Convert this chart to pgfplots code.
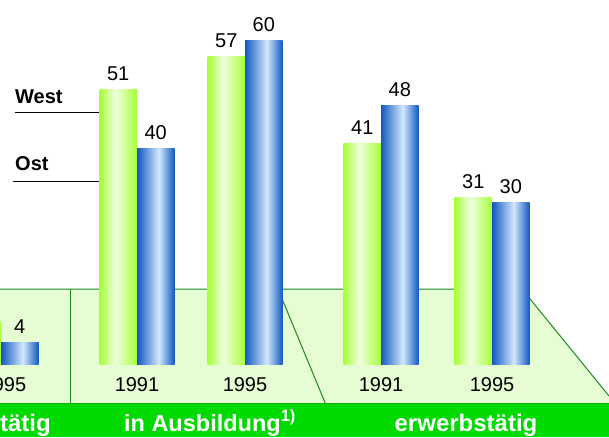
\documentclass[border=0pt]{standalone}
\usepackage{fontspec}
\setmainfont{Liberation Sans}
\usepackage{pgfplots}
\pgfplotsset{compat=1.18}
\definecolor{floorc}{HTML}{E6FDD4}
\definecolor{bandc}{HTML}{00DA00}
\definecolor{dline}{HTML}{1E8A1E}
\definecolor{gEdge}{HTML}{A6FF38}
\definecolor{gMid}{HTML}{F0FFE0}
\definecolor{bEdge}{HTML}{1258C0}
\definecolor{bMid}{HTML}{D2E8FF}
\pgfdeclarehorizontalshading{greenbar}{100bp}{color(0bp)=(gEdge); color(25bp)=(gEdge); color(46bp)=(gMid); color(75bp)=(gEdge); color(100bp)=(gEdge)}
\pgfdeclarehorizontalshading{bluebar}{100bp}{color(0bp)=(bEdge); color(25bp)=(bEdge); color(54bp)=(bMid); color(75bp)=(bEdge); color(100bp)=(bEdge)}
\newcommand\gbar[2]{\addplot[draw=none, bar shift=-18.75, shade, shading=greenbar] coordinates {(#1,#2)};}
\newcommand\bbar[2]{\addplot[draw=none, bar shift=18.75, shade, shading=bluebar] coordinates {(#1,#2)};}
\begin{document}
\begin{tikzpicture}[x=1pt,y=1pt]
\useasboundingbox (0,0) rectangle (609,437);
\clip (0,0) rectangle (609,437);
\fill[white] (0,0) rectangle (609,437);
% floor
\fill[floorc] (-5,148) -- (522,148) -- (609,41) -- (609,33) -- (-5,33) -- cycle;
\draw[dline, line width=1pt] (-5,148) -- (522,148) -- (609,41);
\draw[dline, line width=1pt] (70,148) -- (70,29);
\draw[dline, line width=1pt] (278,148) -- (326,32);
% band
\fill[bandc] (-5,0) rectangle (614,33.5);
\draw[dline!60!bandc, line width=1pt] (-5,33.5) -- (614,33.5);
% legend-like labels
\node[anchor=base west, inner sep=0, font=\fontsize{20}{24}\selectfont\bfseries] at (15,333) {West};
\draw[black, line width=0.9pt] (15,324.3) -- (100,324.3);
\node[anchor=base west, inner sep=0, font=\fontsize{20}{24}\selectfont\bfseries] at (15,267) {Ost};
\draw[black, line width=0.9pt] (13,255.7) -- (148,255.7);
% year labels
\foreach \xx/\yy in {4/1995,137/1991,245/1995,381/1991,492/1995}
  \node[anchor=base, inner sep=0, font=\fontsize{20}{24}\selectfont] at (\xx,45.5) {\yy};
% band labels
\node[anchor=base east, inner sep=0, text=white, font=\fontsize{24}{28}\selectfont\bfseries] at (51,6) {nicht erwerbstätig};
\node[anchor=base, inner sep=0, text=white, font=\fontsize{23.5}{28}\selectfont\bfseries] at (210,6) {in Ausbildung\textsuperscript{1)}};
\node[anchor=base, inner sep=0, text=white, font=\fontsize{24}{28}\selectfont\bfseries] at (466,6) {erwerbstätig};
\begin{axis}[
  at={(0pt,72.5pt)}, anchor=south west,
  x=1pt, y=5.4pt,
  xmin=0, xmax=609, ymin=0, ymax=67,
  hide axis, clip=false,
  ybar, bar width=37.5,
  /pgf/number format/assume math mode=true,
  nodes near coords,
  every node near coord/.append style={anchor=base, inner sep=0, yshift=9pt, text=black, font=\fontsize{20}{24}\selectfont},
]
\gbar{1}{8}
\gbar{137}{51}
\gbar{245}{57}
\gbar{381}{41}
\gbar{492}{31}
\bbar{1}{4}
\bbar{137}{40}
\bbar{245}{60}
\bbar{381}{48}
\bbar{492}{30}
\end{axis}
\end{tikzpicture}
\end{document}
